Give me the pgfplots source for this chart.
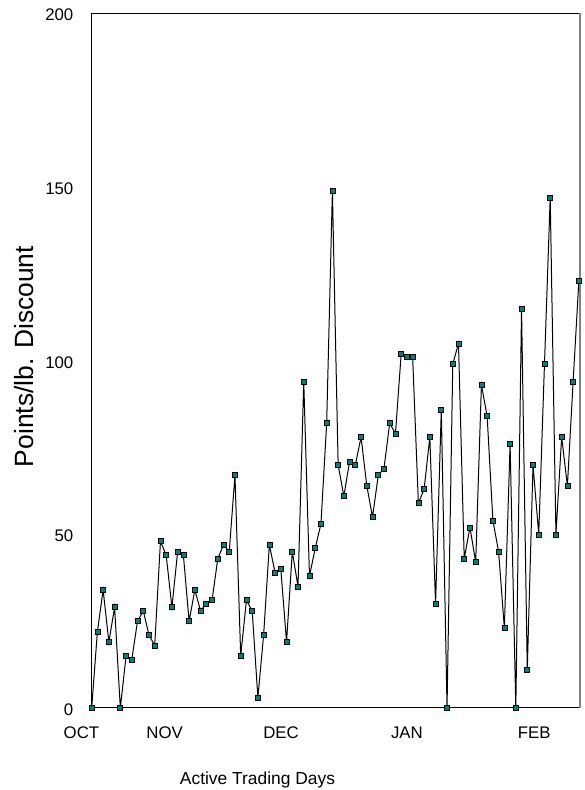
\documentclass[border=0pt]{standalone}
\usepackage{pgfplots}
\pgfplotsset{compat=1.18}
\usepackage{fontspec}
\setmainfont{Liberation Sans}
\definecolor{markteal}{RGB}{0,128,128}
\definecolor{edgegray}{RGB}{128,128,128}
\tikzset{month/.style={anchor=base, inner sep=0pt, font=\fontsize{8.4pt}{10pt}\selectfont, yshift=-15.2pt}}
\begin{document}
\begin{tikzpicture}
\useasboundingbox (0,0) rectangle (292pt,395pt);
\begin{axis}[
  at={(45.75pt,41pt)}, anchor=south west,
  scale only axis,
  width=244.25pt, height=347.25pt,
  xmin=-0.03, xmax=85.2,
  ymin=0, ymax=200,
  xtick=\empty,
  ytick={0,50,100,150,200},
  yticklabels={0\hspace{-3.7pt},50\hspace{-2.2pt},100,150,200},
  major tick length=0pt,
  tick style={draw=none},
  /pgf/number format/assume math mode=true,
  yticklabel style={font=\fontsize{8.4pt}{10pt}\selectfont, inner sep=0pt, anchor=east, xshift=-8.9pt, yshift=-0.8pt},
  axis line style={line width=0.5pt, black},
  clip=false,
]
\addplot[black, line width=0.5pt, mark=square*, mark size=1.25pt,
  mark options={fill=markteal, draw=black, line width=0.35pt}]
  coordinates {
(0,0) (1,22) (2,34) (3,19) (4,29) (5,0) (6,15) (7,14) (8,25) (9,28)
(10,21) (11,18) (12,48) (13,44) (14,29) (15,45) (16,44) (17,25) (18,34) (19,28)
(20,30) (21,31) (22,43) (23,47) (24,45) (25,67) (26,15) (27,31) (28,28) (29,3)
(30,21) (31,47) (32,39) (33,40) (34,19) (35,45) (36,35) (37,94) (38,38) (39,46)
(40,53) (41,82) (42,149) (43,70) (44,61) (45,71) (46,70) (47,78) (48,64) (49,55)
(50,67) (51,69) (52,82) (53,79) (54,102) (55,101) (56,101) (57,59) (58,63) (59,78)
(60,30) (61,86) (62,0) (63,99) (64,105) (65,43) (66,52) (67,42) (68,93) (69,84)
(70,54) (71,45) (72,23) (73,76) (74,0) (75,115) (76,11) (77,70) (78,50) (79,99)
(80,147) (81,50) (82,78) (83,64) (84,94) (85,123)
  };
\draw[edgegray, line width=1pt] (rel axis cs:1,0) -- (rel axis cs:1,1);
\node[month] at (axis cs:-1.78,0) {OCT};
\node[month] at (axis cs:12.74,0) {NOV};
\node[month] at (axis cs:33.04,0) {DEC};
\node[month] at (axis cs:55.0,0) {JAN};
\node[month] at (axis cs:77.2,0) {FEB};
\end{axis}
\node[rotate=90, anchor=center, inner sep=0pt, font=\fontsize{13.2pt}{15pt}\selectfont] at (12pt,216.75pt) {Points/lb. Discount};
\node[anchor=base, inner sep=0pt, font=\fontsize{8.7pt}{10pt}\selectfont] at (128.75pt,2.5pt) {Active Trading Days};
\end{tikzpicture}
\end{document}
